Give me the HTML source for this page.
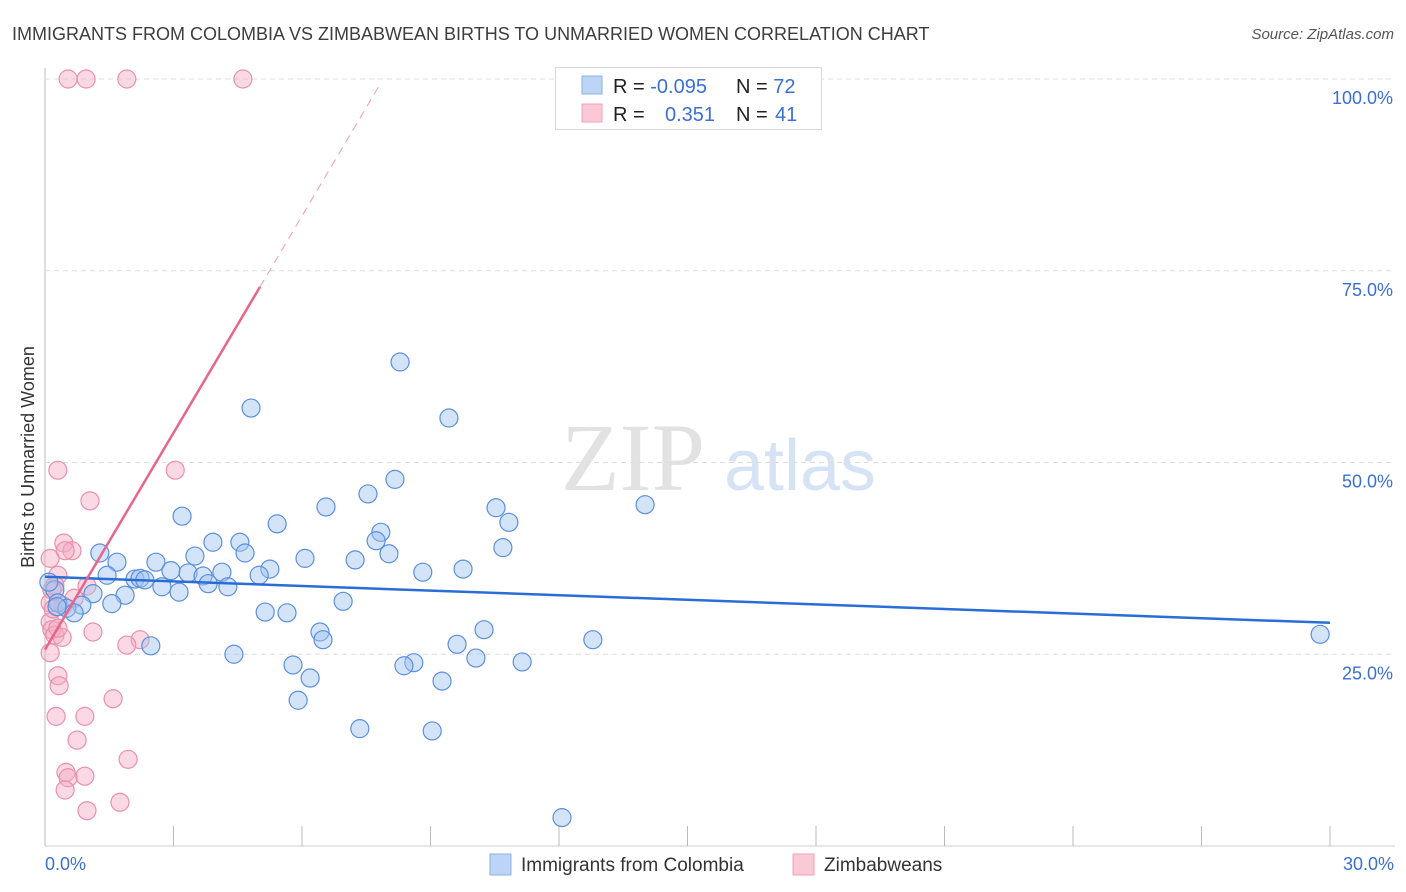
<!DOCTYPE html>
<html><head><meta charset="utf-8">
<style>
body{margin:0;background:#fff;font-family:"Liberation Sans",sans-serif;}
svg{display:block}
</style></head>
<body>
<svg id="chart" width="1406" height="892" xmlns="http://www.w3.org/2000/svg">
<text x="12" y="40" font-size="18" fill="#3d3d3d">IMMIGRANTS FROM COLOMBIA VS ZIMBABWEAN BIRTHS TO UNMARRIED WOMEN CORRELATION CHART</text>
<text x="1394" y="39" font-size="15" fill="#555" text-anchor="end" font-style="italic">Source: ZipAtlas.com</text>
<text x="633" y="490" font-size="96" fill="#e2e2e2" font-family="Liberation Serif,serif" text-anchor="middle">ZIP</text>
<text x="800" y="490" font-size="72" fill="#d6e3f5" text-anchor="middle">atlas</text>
<text transform="translate(34,457) rotate(-90)" font-size="18" fill="#333" text-anchor="middle">Births to Unmarried Women</text>
<g id="grid"></g><g id="marks"></g>
<g>
<rect x="555.5" y="67.5" width="266" height="62" fill="#fff" stroke="#d8d8d8"/>
<rect x="582" y="76" width="20" height="18" fill="#bcd4f5" stroke="#8ab0e8"/>
<rect x="582" y="104" width="20" height="18" fill="#fbc8d6" stroke="#f0a0b8"/>
<text x="613" y="93" font-size="20" fill="#222">R = <tspan fill="#3b6fd6">-0.095</tspan></text>
<text x="736" y="93" font-size="20" fill="#222">N = <tspan fill="#3b6fd6">72</tspan></text>
<text x="613" y="121" font-size="20" fill="#222">R = <tspan fill="#3b6fd6" x="665">0.351</tspan></text>
<text x="736" y="121" font-size="20" fill="#222">N = <tspan fill="#3b6fd6" x="775">41</tspan></text>
</g>
<g>
<rect x="490" y="854" width="21" height="21" fill="#bcd4f5" stroke="#8ab0e8"/>
<text x="521" y="871" font-size="19" fill="#333">Immigrants from Colombia</text>
<rect x="793" y="854" width="21" height="21" fill="#fbc8d6" stroke="#f0a0b8"/>
<text x="824" y="871" font-size="19" fill="#333">Zimbabweans</text>
</g>
</svg>
<script>
const yTicks=[25,50,75,100];
const xTickLabels=["0.0%","30.0%"];
const blueX=[8.29,4.81,9.43,8.17,7.54,14.01,3.20,6.56,10.53,10.83,5.42,3.92,4.55,7.84,7.73,10.69,1.28,4.67,3.50,8.03,6.07,1.68,2.59,7.24,5.25,9.76,8.82,2.94,4.13,3.34,1.45,5.00,3.69,2.10,2.22,2.33,2.73,3.81,4.27,3.13,1.87,1.12,0.23,0.09,1.56,0.86,0.30,0.51,0.68,6.96,5.14,5.65,6.42,10.25,12.79,6.49,2.47,9.62,4.41,5.79,10.06,11.14,8.61,8.38,6.19,9.27,5.91,7.35,9.04,12.07,29.77,0.28];
const blueY=[63.1,57.1,55.8,47.8,45.9,44.5,43.0,44.2,44.1,42.2,42.0,39.6,39.6,40.9,39.8,38.9,38.2,38.2,37.8,38.1,37.5,37.0,37.0,37.3,36.1,36.1,35.7,35.9,35.7,35.6,35.3,35.3,35.2,34.8,34.9,34.7,33.8,34.2,33.8,33.1,32.7,32.9,33.4,34.4,31.6,31.4,31.7,31.0,30.4,31.9,30.5,30.4,27.9,28.2,26.9,26.9,26.1,26.3,25.0,23.6,24.5,24.0,23.9,23.5,21.9,21.5,19.0,15.3,15.0,3.7,27.6,31.2];
const pinkX=[0.54,0.96,1.91,4.62,0.30,3.04,1.05,0.44,0.63,0.47,0.12,0.30,0.23,0.16,0.98,0.68,0.12,0.42,0.12,0.16,0.23,0.40,1.12,2.22,1.91,0.12,0.30,0.33,1.59,0.26,0.93,0.75,1.94,0.49,0.54,0.93,0.47,0.98,1.75,0.19,0.30];
const pinkY=[100,100,100,100,49.0,49.0,45.0,39.5,38.5,38.5,37.5,35.3,34.0,33.4,33.9,32.3,31.7,31.3,29.2,28.2,27.5,27.2,27.9,26.9,26.2,25.2,22.2,20.9,19.2,16.9,16.9,13.8,11.3,9.6,8.9,9.1,7.3,4.6,5.7,30.9,28.4];
const blueTrend=[[0,35.1],[30,29.1]];
const pinkTrendSolid=[[0,25.6],[5.02,72.9]];
const pinkTrendDash=[[5.02,72.9],[7.82,99.3]];
const X=v=>45+v*1285/30, Y=v=>846-v*7.67;
const NS="http://www.w3.org/2000/svg";
function mk(p,tag,at){const e=document.createElementNS(NS,tag);for(const k in at)e.setAttribute(k,at[k]);p.appendChild(e);return e;}
const g=document.getElementById('grid'), m=document.getElementById('marks');
let e;
e=mk(g,'line',{x1:45,y1:68,x2:45,y2:846,stroke:'#bbb'});


e=mk(g,'line',{x1:45,y1:846,x2:1395,y2:846,stroke:'#ccc'});


yTicks.forEach(t=>{
 e=mk(g,'line',{x1:45,y1:Y(t),x2:1395,y2:Y(t),stroke:'#ddd','stroke-dasharray':'5,4'});
 
 
 e=mk(g,'text',{x:1393,y:Y(t)+25,'font-size':18,fill:'#3b6fd6','text-anchor':'end'});e.textContent=t.toFixed(1)+'%';
 
 
});
for(let i=0;i<=10;i++){
 e=mk(g,'line',{x1:X(i*3),y1:826,x2:X(i*3),y2:846,stroke:'#bbb'});
 
 
}
e=mk(g,'text',{x:45,y:870,'font-size':18,fill:'#3b6fd6'});e.textContent=xTickLabels[0];


e=mk(g,'text',{x:1394,y:870,'font-size':18,fill:'#3b6fd6','text-anchor':'end'});e.textContent=xTickLabels[1];


pinkX.forEach((x,i)=>{
 e=mk(m,'circle',{cx:X(x),cy:Y(pinkY[i]),r:9,fill:'rgba(245,170,195,0.45)',stroke:'#ea90ab','stroke-width':1.2});
 
 
});
blueX.forEach((x,i)=>{
 e=mk(m,'circle',{cx:X(x),cy:Y(blueY[i]),r:9,fill:'rgba(160,195,240,0.45)',stroke:'#5b8fe0','stroke-width':1.2});
 
 
});
e=mk(m,'line',{x1:X(blueTrend[0][0]),y1:Y(blueTrend[0][1]),x2:X(blueTrend[1][0]),y2:Y(blueTrend[1][1]),stroke:'#2a6dd6','stroke-width':2.5});


e=mk(m,'line',{x1:X(pinkTrendSolid[0][0]),y1:Y(pinkTrendSolid[0][1]),x2:X(pinkTrendSolid[1][0]),y2:Y(pinkTrendSolid[1][1]),stroke:'#e8648c','stroke-width':2.5});


e=mk(m,'line',{x1:X(pinkTrendDash[0][0]),y1:Y(pinkTrendDash[0][1]),x2:X(pinkTrendDash[1][0]),y2:Y(pinkTrendDash[1][1]),stroke:'#eeaabb','stroke-width':1.2,'stroke-dasharray':'8,6'});


</script>
</body></html>
